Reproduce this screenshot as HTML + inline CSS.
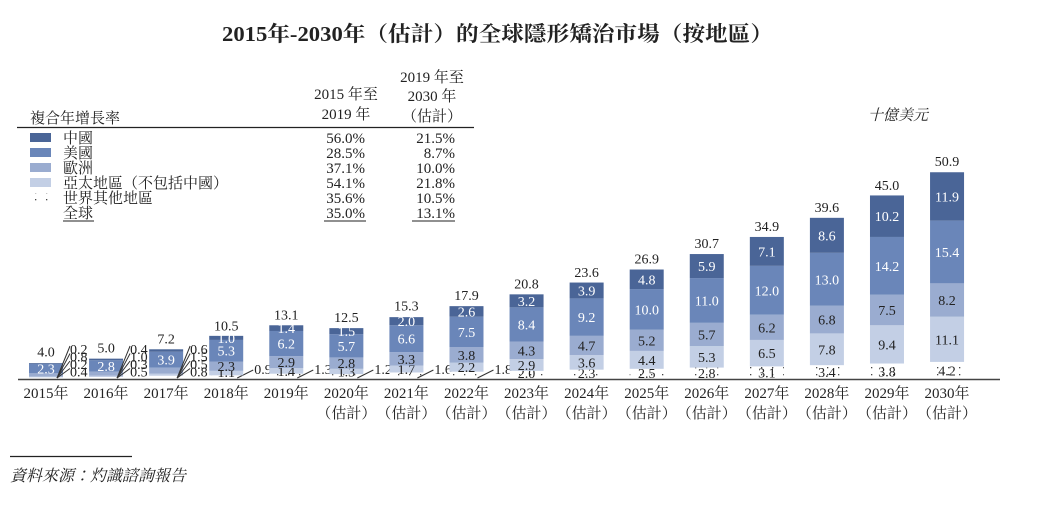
<!DOCTYPE html>
<html><head><meta charset="utf-8"><style>
html,body{margin:0;padding:0;background:#fff;}
svg{display:block;}
text{font-family:"Liberation Serif","Noto Serif CJK TC","Noto Serif CJK SC",serif;fill:#222;}
</style></head><body>
<svg id="chart" width="1049" height="505" viewBox="0 0 1049 505" xmlns="http://www.w3.org/2000/svg">
<defs>
<pattern id="dots" width="11" height="7" patternUnits="userSpaceOnUse"><rect width="11" height="7" fill="#fff"/><rect x="2" y="3" width="1.3" height="1.3" fill="#444"/></pattern>
</defs>
<text x="222" y="41" textLength="551" lengthAdjust="spacingAndGlyphs" font-size="21" font-weight="bold">2015年-2030年（估計）的全球隱形矯治市場（按地區）</text>
<g font-size="15">
<text x="30" y="123">複合年增長率</text>
<text x="346" y="99" text-anchor="middle">2015 年至</text>
<text x="346" y="119" text-anchor="middle">2019 年</text>
<text x="432" y="82" text-anchor="middle">2019 年至</text>
<text x="432" y="101" text-anchor="middle">2030 年</text>
<text x="432" y="121" text-anchor="middle">（估計）</text>
<line x1="17" y1="127.5" x2="474" y2="127.5" stroke="#222" stroke-width="1.2"/>
<g id="legrows"></g>
</g>
<text x="868" y="120" font-size="15" font-style="italic">十億美元</text>
<g id="bars"></g>
<line x1="18" y1="379.5" x2="1000" y2="379.5" stroke="#444" stroke-width="1.5"/>
<line x1="10" y1="456.5" x2="132" y2="456.5" stroke="#222" stroke-width="1.3"/>
<text x="10" y="481" font-size="16" font-style="italic">資料來源：灼識諮詢報告</text>
</svg>
<script>
const years = ["2015年","2016年","2017年","2018年","2019年","2020年","2021年","2022年","2023年","2024年","2025年","2026年","2027年","2028年","2029年","2030年"];
const estimated = [0,0,0,0,0,1,1,1,1,1,1,1,1,1,1,1];
const totals = [4.0,5.0,7.2,10.5,13.1,12.5,15.3,17.9,20.8,23.6,26.9,30.7,34.9,39.6,45.0,50.9];
const china = [0.2,0.4,0.6,1.0,1.4,1.5,2.0,2.6,3.2,3.9,4.8,5.9,7.1,8.6,10.2,11.9];
const usa = [2.3,2.8,3.9,5.3,6.2,5.7,6.6,7.5,8.4,9.2,10.0,11.0,12.0,13.0,14.2,15.4];
const europe = [0.8,1.0,1.5,2.3,2.9,2.8,3.3,3.8,4.3,4.7,5.2,5.7,6.2,6.8,7.5,8.2];
const apac = [0.2,0.3,0.5,1.1,1.4,1.3,1.7,2.2,2.9,3.6,4.4,5.3,6.5,7.8,9.4,11.1];
const row = [0.4,0.5,0.8,0.9,1.3,1.2,1.6,1.8,2.0,2.3,2.5,2.8,3.1,3.4,3.8,4.2];
const legendNames = ["中國","美國","歐洲","亞太地區（不包括中國）","世界其他地區","全球"];
const cagr1 = ["56.0%","28.5%","37.1%","54.1%","35.6%","35.0%"];
const cagr2 = ["21.5%","8.7%","10.0%","21.8%","10.5%","13.1%"];

const NS="http://www.w3.org/2000/svg";
const base=379, scale=4.07, x0=46, step=60.07, bw=34;
const yS=v=>v*scale;
const xC=i=>x0+i*step;
function mk(tag,attrs,parent,txt){const e=document.createElementNS(NS,tag);for(const k in attrs)e.setAttribute(k,attrs[k]);if(txt!==undefined)e.textContent=txt;parent.appendChild(e);return e;}
const colors=["#4a6597","#6a86b9","#9aacd0","#c3cfe5","url(#dots)"];
const series=[row,apac,europe,usa,china]; // bottom to top
const segCol=["url(#dots)","#c3cfe5","#9aacd0","#6a86b9","#4a6597"];
const segTxt=["#222","#222","#222","#fff","#fff"];
const segName=["row","apac","europe","us","china"];
const bars=document.getElementById('bars');
years.forEach((yr,i)=>{
  const g=mk('g',{},bars);
  
  
  let y=base; const cx=xC(i), xl=cx-bw/2;
  const outside=[];
  series.forEach((s,k)=>{
    const h=yS(s[i]); y-=h;
    const r=mk('rect',{x:xl,y:y,width:bw,height:h,fill:segCol[k]},g);
    
    
    const cy=y+h/2;
    if(i<3){
      if(k===3) mk('text',{x:cx,y:cy+5,'text-anchor':'middle','font-size':14,style:'fill:#fff'},g,s[i].toFixed(1));
      else outside.push({k:k,v:s[i],cy:cy});
    } else if(k===0){
      if(h<11 && i<8){
        const lx=cx+bw/2+10, ly=374;
        mk('line',{x1:cx+bw/2-6,y1:base-1,x2:lx,y2:ly-4,stroke:'#333','stroke-width':1},g);
        mk('text',{x:lx+1,y:ly,'font-size':14},g,s[i].toFixed(1));
      } else {
        mk('text',{x:cx,y:Math.min(cy+5,378),'text-anchor':'middle','font-size':14},g,s[i].toFixed(1));
      }
    } else if(k===1){
      mk('text',{x:cx,y:Math.min(cy+5,377),'text-anchor':'middle','font-size':14},g,s[i].toFixed(1));
    } else {
      mk('text',{x:cx,y:cy+5,'text-anchor':'middle','font-size':14,style:'fill:'+segTxt[k]},g,s[i].toFixed(1));
    }
  });
  outside.reverse().forEach((o,j)=>{
    const ly=354+j*7.5, lx=cx+bw/2+5;
    mk('line',{x1:cx+bw/2-6,y1:base-1,x2:lx+2,y2:ly-8,stroke:'#333','stroke-width':1},g);
    mk('text',{x:lx+2,y:ly,'font-size':14},g,o.v.toFixed(1));
  });
  const t=mk('text',{x:cx,y:base-yS(totals[i])-6,'text-anchor':'middle','font-size':14},g,totals[i].toFixed(1));
  
  
  const xl1=mk('text',{x:cx,y:398,'text-anchor':'middle','font-size':15},g,yr);
  
  
  if(estimated[i]) mk('text',{x:cx,y:418,'text-anchor':'middle','font-size':15},g,'（估計）');
});
const lr=document.getElementById('legrows');
legendNames.forEach((n,i)=>{
  const y=143+i*15;
  const g=mk('g',{},lr);
  
  
  if(i<5) mk('rect',{x:30,y:y-10,width:21,height:9,fill:colors[i]},g);
  mk('text',{x:63,y:y,'font-size':15},g,n);
  mk('text',{x:365,y:y,'text-anchor':'end','font-size':15},g,cagr1[i]);
  mk('text',{x:455,y:y,'text-anchor':'end','font-size':15},g,cagr2[i]);
  if(i===5){
    mk('line',{x1:63,y1:y+3,x2:94,y2:y+3,stroke:'#222','stroke-width':1},g);
    mk('line',{x1:324,y1:y+3,x2:366,y2:y+3,stroke:'#222','stroke-width':1},g);
    mk('line',{x1:412,y1:y+3,x2:455,y2:y+3,stroke:'#222','stroke-width':1},g);
  }
});
</script>
</body></html>
